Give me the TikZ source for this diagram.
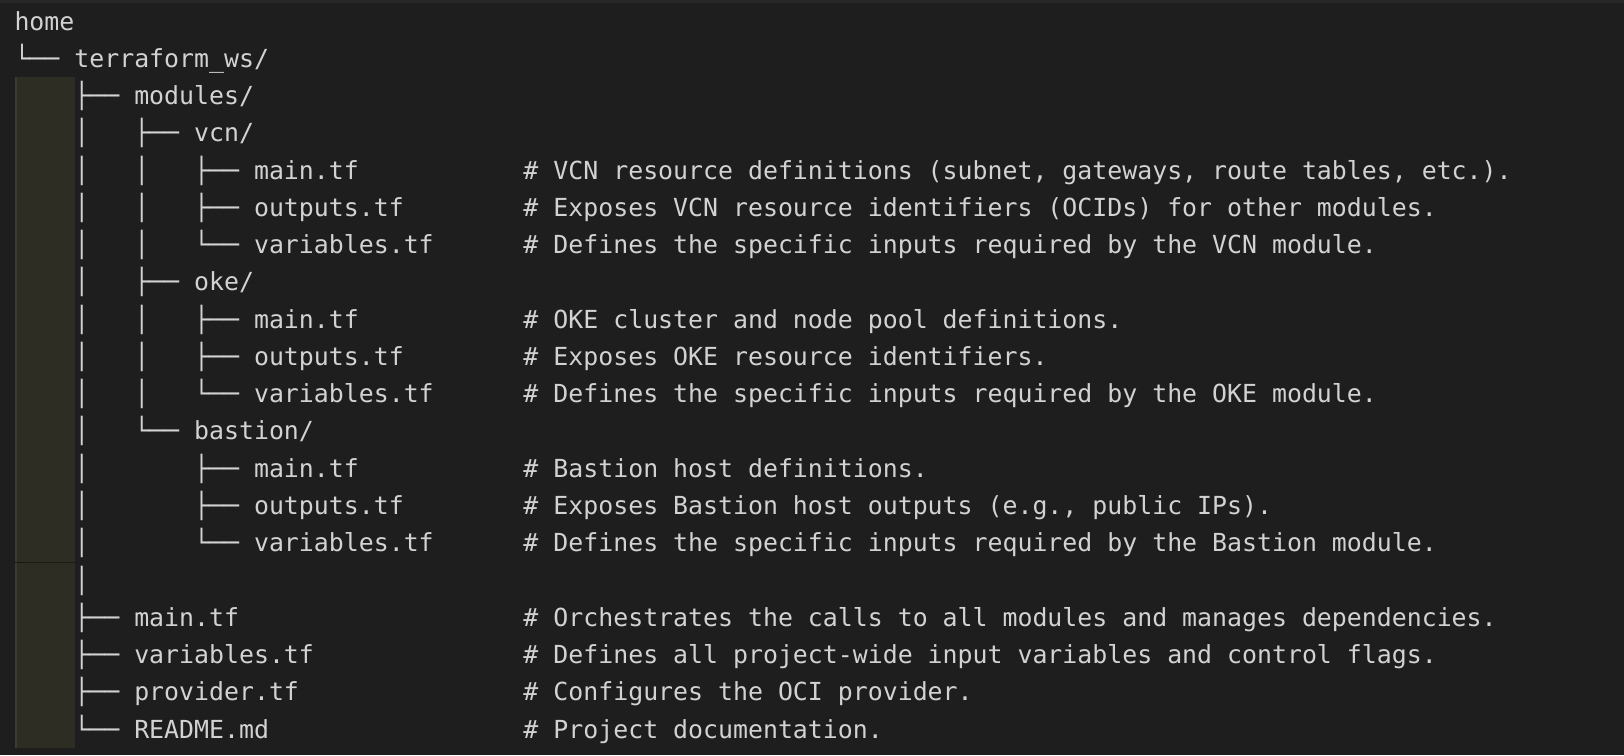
\documentclass[tikz,border=0pt]{standalone}
\usepackage{fontspec}
\setmonofont{DejaVu Sans Mono}
\definecolor{bgc}{HTML}{1E1E1E}
\definecolor{topc}{HTML}{262626}
\definecolor{bandc}{HTML}{2D2D23}
\definecolor{bandedge}{HTML}{3B3B31}
\definecolor{bandsep}{HTML}{1A1A15}
\definecolor{txtc}{HTML}{D2D2D2}
\tikzset{
  txt/.style={anchor=base west, inner sep=0pt, outer sep=0pt, text=txtc,
    font=\ttfamily\fontsize{24.87}{30}\selectfont},
}
\newcommand\cx[1]{14.5+14.97*#1}
\newcommand\by[1]{30+37.27*#1}
\begin{document}
\begin{tikzpicture}[x=1pt,y=-1pt]
\useasboundingbox (0,0) rectangle (1624,755);
\fill[bgc] (0,0) rectangle (1624,755);
\fill[topc] (0,0) rectangle (1624,3);
% indent guide band
\fill[bandc] (15,77) rectangle (75,748);
\fill[bandedge] (15,77) rectangle (17,748);
\fill[bandsep] (15,561.5) rectangle (75,562.8);
% tree rows
\node[txt] (r0)  at ({\cx{0}},{\by{0}})  {home};
\node[txt] (r1)  at ({\cx{0}},{\by{1}})  {└──~terraform\_ws/};
\node[txt] (r2)  at ({\cx{4}},{\by{2}})  {├──~modules/};
\node[txt] (r3)  at ({\cx{4}},{\by{3}})  {│~~~├──~vcn/};
\node[txt] (r4)  at ({\cx{4}},{\by{4}})  {│~~~│~~~├──~main.tf};
\node[txt] (r5)  at ({\cx{4}},{\by{5}})  {│~~~│~~~├──~outputs.tf};
\node[txt] (r6)  at ({\cx{4}},{\by{6}})  {│~~~│~~~└──~variables.tf};
\node[txt] (r7)  at ({\cx{4}},{\by{7}})  {│~~~├──~oke/};
\node[txt] (r8)  at ({\cx{4}},{\by{8}})  {│~~~│~~~├──~main.tf};
\node[txt] (r9)  at ({\cx{4}},{\by{9}})  {│~~~│~~~├──~outputs.tf};
\node[txt] (r10) at ({\cx{4}},{\by{10}}) {│~~~│~~~└──~variables.tf};
\node[txt] (r11) at ({\cx{4}},{\by{11}}) {│~~~└──~bastion/};
\node[txt] (r12) at ({\cx{4}},{\by{12}}) {│~~~~~~~├──~main.tf};
\node[txt] (r13) at ({\cx{4}},{\by{13}}) {│~~~~~~~├──~outputs.tf};
\node[txt] (r14) at ({\cx{4}},{\by{14}}) {│~~~~~~~└──~variables.tf};
\node[txt] (r15) at ({\cx{4}},{\by{15}}) {│};
\node[txt] (r16) at ({\cx{4}},{\by{16}}) {├──~main.tf};
\node[txt] (r17) at ({\cx{4}},{\by{17}}) {├──~variables.tf};
\node[txt] (r18) at ({\cx{4}},{\by{18}}) {├──~provider.tf};
\node[txt] (r19) at ({\cx{4}},{\by{19}}) {└──~README.md};
% comments
\node[txt] (c4)  at ({\cx{34}},{\by{4}})  {\#~VCN~resource~definitions~(subnet,~gateways,~route~tables,~etc.).};
\node[txt] (c5)  at ({\cx{34}},{\by{5}})  {\#~Exposes~VCN~resource~identifiers~(OCIDs)~for~other~modules.};
\node[txt] (c6)  at ({\cx{34}},{\by{6}})  {\#~Defines~the~specific~inputs~required~by~the~VCN~module.};
\node[txt] (c8)  at ({\cx{34}},{\by{8}})  {\#~OKE~cluster~and~node~pool~definitions.};
\node[txt] (c9)  at ({\cx{34}},{\by{9}})  {\#~Exposes~OKE~resource~identifiers.};
\node[txt] (c10) at ({\cx{34}},{\by{10}}) {\#~Defines~the~specific~inputs~required~by~the~OKE~module.};
\node[txt] (c12) at ({\cx{34}},{\by{12}}) {\#~Bastion~host~definitions.};
\node[txt] (c13) at ({\cx{34}},{\by{13}}) {\#~Exposes~Bastion~host~outputs~(e.g.,~public~IPs).};
\node[txt] (c14) at ({\cx{34}},{\by{14}}) {\#~Defines~the~specific~inputs~required~by~the~Bastion~module.};
\node[txt] (c16) at ({\cx{34}},{\by{16}}) {\#~Orchestrates~the~calls~to~all~modules~and~manages~dependencies.};
\node[txt] (c17) at ({\cx{34}},{\by{17}}) {\#~Defines~all~project-wide~input~variables~and~control~flags.};
\node[txt] (c18) at ({\cx{34}},{\by{18}}) {\#~Configures~the~OCI~provider.};
\node[txt] (c19) at ({\cx{34}},{\by{19}}) {\#~Project~documentation.};
\end{tikzpicture}
\end{document}
